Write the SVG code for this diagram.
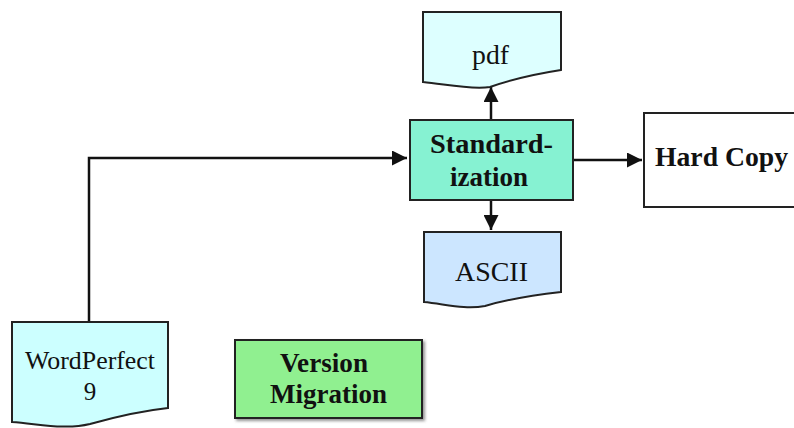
<svg xmlns="http://www.w3.org/2000/svg" width="794" height="428" viewBox="0 0 794 428">
<style>
.shape{stroke:#222;stroke-width:2}
.t{font-family:"Liberation Serif","Times New Roman",serif;fill:#111}
.b{font-weight:bold}
.line{fill:none;stroke:#111;stroke-width:2.5}
</style>
<defs>
<marker id="ah" viewBox="0 0 10 10" refX="10" refY="5" markerWidth="6" markerHeight="6" orient="auto" markerUnits="strokeWidth">
<path d="M0,0 L10,5 L0,10 Z" fill="#111"/>
</marker>
<filter id="sh" x="-10%" y="-10%" width="130%" height="130%">
<feDropShadow dx="2" dy="2" stdDeviation="1.5" flood-color="#666" flood-opacity="0.7"/>
</filter>
</defs>
<rect width="794" height="428" fill="#ffffff"/>
<g id="connectors">
<polyline class="line" points="89,321 89,158 407,158" marker-end="url(#ah)"/>
<line class="line" x1="491" y1="119" x2="491" y2="87" marker-end="url(#ah)"/>
<line class="line" x1="491" y1="201" x2="491" y2="230" marker-end="url(#ah)"/>
<line class="line" x1="574" y1="160" x2="642" y2="160" marker-end="url(#ah)"/>
</g>
<g id="pdf">
<path class="shape" fill="#ddffff" d="M423,12 H561 V70 C535,74 510,80 490,87 C470,90 445,84 423,82 Z"/>
<text class="t" x="472" y="64" font-size="27" textLength="37" lengthAdjust="spacingAndGlyphs">pdf</text>
</g>
<g id="standardization">
<rect class="shape" x="410" y="120" width="163" height="80" fill="#86f2d2"/>
<text class="t b" x="430" y="153" font-size="28" textLength="123" lengthAdjust="spacingAndGlyphs">Standard-</text>
<text class="t b" x="450" y="186" font-size="28" textLength="78" lengthAdjust="spacingAndGlyphs">ization</text>
</g>
<g id="hardcopy">
<path class="shape" fill="#ffffff" d="M800,113 H644 V207 H800"/>
<text class="t b" x="655" y="166" font-size="28" textLength="133" lengthAdjust="spacingAndGlyphs">Hard Copy</text>
</g>
<g id="ascii">
<path class="shape" fill="#cce6ff" d="M424,232 H561 V292 C535,295 505,300 485,306 C465,310 445,304 424,302 Z"/>
<text class="t" x="455" y="281" font-size="27" textLength="73" lengthAdjust="spacingAndGlyphs">ASCII</text>
</g>
<g id="wordperfect">
<path class="shape" fill="#ccffff" d="M12,322 H168 V408 C140,411 115,417 90,424 C65,430 40,424 12,422 Z"/>
<text class="t" x="25" y="369" font-size="25" textLength="130" lengthAdjust="spacingAndGlyphs">WordPerfect</text>
<text class="t" x="90" y="400" font-size="25" text-anchor="middle">9</text>
</g>
<g id="versionmigration">
<rect class="shape" x="235" y="340" width="187" height="78" fill="#90f090" filter="url(#sh)"/>
<text class="t b" x="280" y="372" font-size="27" textLength="88" lengthAdjust="spacingAndGlyphs">Version</text>
<text class="t b" x="270" y="403" font-size="27" textLength="117" lengthAdjust="spacingAndGlyphs">Migration</text>
</g>
</svg>
